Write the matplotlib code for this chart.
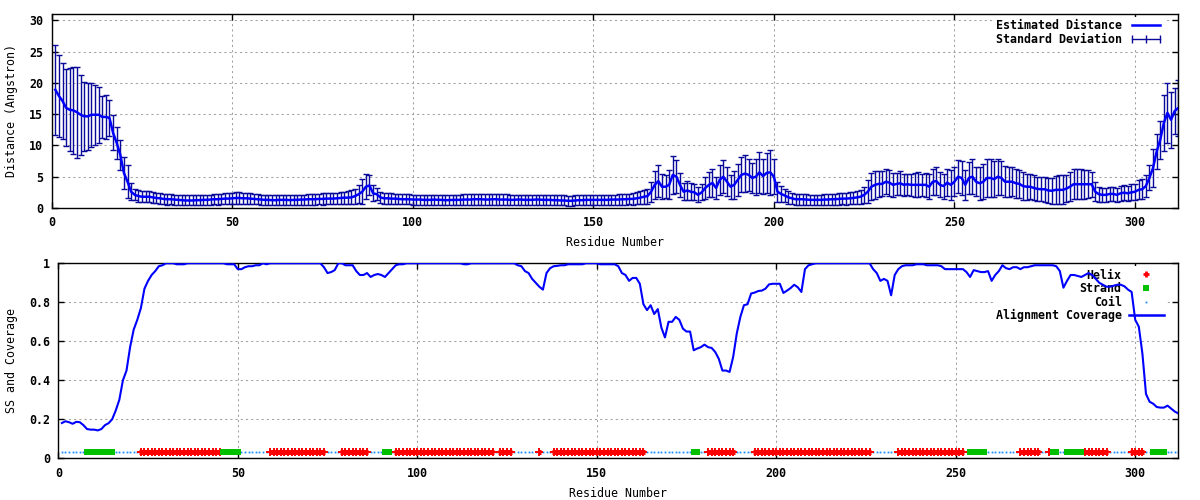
import matplotlib
matplotlib.use('Agg')
import matplotlib.pyplot as plt
from matplotlib.lines import Line2D
from matplotlib.ticker import FuncFormatter

# residue numbers
residues = list(range(1, 313))

# estimated distance (Angstrom) per residue
distance = [
    18.9, 17.9, 17.1, 16.0, 15.7, 15.6, 15.3, 14.9, 14.65, 14.65,
    14.9, 14.9, 14.9, 14.55, 14.55, 14.4, 12.0, 10.4, 8.5, 5.6,
    4.2, 2.6, 2.1, 1.9, 1.8, 1.8, 1.8, 1.7, 1.6, 1.55,
    1.45, 1.4, 1.4, 1.35, 1.3, 1.25, 1.2, 1.2, 1.2, 1.25,
    1.25, 1.3, 1.3, 1.35, 1.4, 1.4, 1.45, 1.5, 1.5, 1.55,
    1.6, 1.6, 1.55, 1.55, 1.5, 1.45, 1.4, 1.35, 1.3, 1.3,
    1.25, 1.25, 1.3, 1.3, 1.3, 1.25, 1.3, 1.3, 1.35, 1.35,
    1.4, 1.4, 1.4, 1.45, 1.45, 1.5, 1.5, 1.5, 1.55, 1.6,
    1.65, 1.65, 1.7, 1.9, 2.2, 2.6, 3.4, 3.6, 2.35, 2.2,
    1.7, 1.55, 1.55, 1.5, 1.5, 1.45, 1.4, 1.4, 1.4, 1.35,
    1.35, 1.35, 1.3, 1.3, 1.3, 1.35, 1.3, 1.3, 1.25, 1.25,
    1.3, 1.3, 1.3, 1.35, 1.35, 1.35, 1.4, 1.4, 1.4, 1.35,
    1.35, 1.4, 1.4, 1.35, 1.35, 1.35, 1.3, 1.3, 1.35, 1.35,
    1.3, 1.3, 1.3, 1.35, 1.35, 1.3, 1.3, 1.3, 1.25, 1.25,
    1.2, 1.2, 1.15, 1.15, 1.2, 1.25, 1.25, 1.3, 1.3, 1.3,
    1.3, 1.3, 1.3, 1.3, 1.35, 1.35, 1.35, 1.4, 1.4, 1.45,
    1.45, 1.55, 1.65, 1.8, 1.9, 2.6, 3.7, 4.3, 3.4, 3.4,
    3.7, 5.3, 5.0, 3.7, 2.6, 2.8, 2.6, 2.5, 2.1, 2.5,
    3.2, 3.7, 4.0, 3.2, 4.5, 5.0, 4.2, 3.4, 3.7, 4.5,
    5.3, 5.5, 5.3, 4.8, 5.0, 5.7, 5.1, 5.6, 5.7, 5.0,
    2.6, 2.25, 2.0, 1.7, 1.55, 1.4, 1.4, 1.4, 1.35, 1.3,
    1.3, 1.3, 1.3, 1.35, 1.35, 1.4, 1.4, 1.45, 1.5, 1.5,
    1.55, 1.6, 1.7, 1.8, 2.1, 2.6, 3.4, 3.7, 3.85, 3.85,
    4.2, 4.05, 3.7, 3.85, 3.95, 3.7, 3.8, 3.7, 3.7, 3.7,
    3.7, 3.7, 3.4, 4.2, 4.3, 3.7, 3.5, 4.05, 3.7, 4.2,
    5.0, 4.8, 3.7, 4.8, 5.0, 4.2, 3.95, 4.2, 4.8, 4.8,
    4.6, 5.0, 4.8, 4.2, 4.2, 4.2, 3.95, 3.85, 3.5, 3.4,
    3.4, 3.2, 3.05, 3.0, 3.0, 2.8, 2.75, 2.9, 2.9, 2.9,
    3.1, 3.4, 3.8, 3.8, 3.8, 3.8, 3.8, 3.8, 2.6, 2.2,
    2.1, 2.1, 2.25, 2.25, 2.1, 2.35, 2.45, 2.35, 2.5, 2.6,
    2.9, 3.0, 3.5, 4.8, 6.4, 9.0, 10.9, 13.6, 15.2, 14.1,
    15.5, 16.0,
]

# standard deviation of the distance
std_dev = [
    7.2, 6.6, 6.1, 6.15, 6.6, 6.9, 7.3, 6.4, 5.5, 5.4,
    5.15, 4.8, 4.5, 3.4, 3.45, 2.85, 2.8, 2.6, 2.4, 2.6,
    2.6, 1.4, 0.9, 0.9, 0.9, 0.9, 0.9, 0.85, 0.85, 0.85,
    0.85, 0.85, 0.8, 0.8, 0.8, 0.8, 0.8, 0.8, 0.8, 0.8,
    0.8, 0.8, 0.8, 0.8, 0.8, 0.85, 0.85, 0.85, 0.9, 0.9,
    0.9, 0.9, 0.9, 0.85, 0.85, 0.85, 0.8, 0.8, 0.8, 0.8,
    0.8, 0.8, 0.8, 0.8, 0.8, 0.8, 0.8, 0.8, 0.8, 0.8,
    0.85, 0.85, 0.85, 0.85, 0.9, 0.9, 0.9, 0.9, 0.9, 0.95,
    0.95, 1.0, 1.1, 1.2, 1.4, 2.0, 2.0, 1.6, 1.3, 1.0,
    0.9, 0.85, 0.85, 0.85, 0.8, 0.8, 0.8, 0.8, 0.8, 0.8,
    0.8, 0.8, 0.8, 0.8, 0.8, 0.8, 0.8, 0.8, 0.8, 0.8,
    0.8, 0.8, 0.8, 0.85, 0.85, 0.85, 0.85, 0.85, 0.85, 0.85,
    0.85, 0.85, 0.85, 0.85, 0.85, 0.85, 0.8, 0.8, 0.8, 0.8,
    0.8, 0.8, 0.8, 0.8, 0.8, 0.8, 0.8, 0.8, 0.8, 0.8,
    0.8, 0.8, 0.8, 0.8, 0.8, 0.8, 0.8, 0.8, 0.8, 0.8,
    0.8, 0.8, 0.8, 0.8, 0.8, 0.8, 0.85, 0.85, 0.85, 0.85,
    0.9, 0.95, 1.0, 1.1, 1.2, 1.6, 2.2, 2.6, 2.0, 1.8,
    2.3, 3.0, 2.6, 1.9, 1.4, 1.5, 1.4, 1.3, 1.2, 1.3,
    1.8, 2.0, 2.2, 1.8, 2.4, 2.6, 2.3, 1.9, 2.2, 2.6,
    2.8, 2.9, 2.6, 2.4, 2.9, 3.3, 2.8, 3.2, 3.6, 2.8,
    1.6, 1.3, 1.1, 1.0, 0.9, 0.9, 0.85, 0.85, 0.85, 0.85,
    0.85, 0.85, 0.85, 0.85, 0.85, 0.85, 0.9, 0.9, 0.9, 0.95,
    0.95, 1.0, 1.0, 1.1, 1.3, 1.8, 2.2, 2.2, 2.1, 2.0,
    2.0, 2.1, 1.9, 1.8, 1.9, 1.8, 1.7, 1.8, 1.9, 2.0,
    1.8, 1.9, 2.0, 2.1, 2.3, 2.0, 2.0, 2.2, 2.4, 2.3,
    2.6, 2.7, 2.4, 2.5, 2.8, 2.3, 2.6, 2.8, 3.0, 3.0,
    2.9, 2.9, 2.7, 2.5, 2.4, 2.3, 2.3, 2.2, 2.2, 2.1,
    2.0, 2.0, 1.9, 1.9, 2.0, 2.0, 2.1, 2.2, 2.3, 2.3,
    2.2, 2.3, 2.4, 2.4, 2.4, 2.3, 2.2, 2.0, 1.5, 1.2,
    1.1, 1.1, 1.1, 1.1, 1.1, 1.2, 1.2, 1.2, 1.3, 1.3,
    1.5, 1.6, 1.7, 2.0, 3.0, 2.8, 3.0, 4.5, 4.8, 4.5,
    3.7, 4.5,
]

# alignment coverage per residue
coverage = [
    0.181, 0.19, 0.185, 0.177, 0.187, 0.185, 0.17, 0.15, 0.147, 0.147,
    0.143, 0.15, 0.17, 0.18, 0.2, 0.245, 0.3, 0.40, 0.45, 0.57,
    0.66, 0.71, 0.77, 0.87, 0.91, 0.94, 0.96, 0.985, 0.99, 1.0,
    1.0, 1.0, 0.995, 0.995, 0.995, 1.0, 1.0, 1.0, 1.0, 1.0,
    1.0, 1.0, 1.0, 1.0, 1.0, 1.0, 0.995, 0.995, 0.995, 0.97,
    0.97, 0.98, 0.985, 0.985, 0.99, 0.99, 1.0, 0.995, 1.0, 1.0,
    1.0, 1.0, 1.0, 1.0, 1.0, 1.0, 1.0, 1.0, 1.0, 1.0,
    1.0, 1.0, 1.0, 0.98, 0.95, 0.955, 0.965, 1.0, 1.0, 0.99,
    0.99, 0.99, 0.96, 0.94, 0.94, 0.95, 0.93, 0.94, 0.945, 0.94,
    0.93, 0.95, 0.97, 0.99, 0.995, 0.995, 1.0, 1.0, 1.0, 1.0,
    1.0, 1.0, 1.0, 1.0, 1.0, 1.0, 1.0, 1.0, 1.0, 1.0,
    1.0, 1.0, 0.995, 0.995, 1.0, 1.0, 1.0, 1.0, 1.0, 1.0,
    1.0, 1.0, 1.0, 1.0, 1.0, 1.0, 1.0, 0.99, 0.985, 0.96,
    0.95, 0.92, 0.9, 0.88, 0.865, 0.95, 0.975, 0.985, 0.987, 0.99,
    0.99, 0.995, 0.995, 0.995, 0.995, 0.995, 1.0, 1.0, 1.0, 1.0,
    0.995, 0.995, 0.995, 0.995, 0.995, 0.985, 0.95, 0.94, 0.91, 0.925,
    0.925, 0.895, 0.79, 0.76, 0.785, 0.74, 0.765, 0.67, 0.62, 0.70,
    0.70, 0.725, 0.71, 0.665, 0.65, 0.65, 0.554, 0.563, 0.57, 0.583,
    0.57, 0.566, 0.545, 0.51, 0.45, 0.45, 0.443, 0.52, 0.64, 0.725,
    0.785, 0.79, 0.845, 0.85, 0.858, 0.86, 0.87, 0.892, 0.895, 0.895,
    0.895, 0.848, 0.86, 0.873, 0.89, 0.877, 0.853, 0.97, 0.99, 0.995,
    1.0, 1.0, 1.0, 1.0, 1.0, 1.0, 1.0, 1.0, 1.0, 1.0,
    1.0, 1.0, 1.0, 1.0, 1.0, 1.0, 0.97, 0.95, 0.91, 0.92,
    0.91, 0.836, 0.94, 0.97, 0.985, 0.99, 0.99, 0.99, 0.995, 0.995,
    0.995, 0.99, 0.99, 0.99, 0.99, 0.985, 0.97, 0.97, 0.97, 0.97,
    0.97, 0.97, 0.955, 0.93, 0.965, 0.96, 0.955, 0.955, 0.96, 0.91,
    0.94, 0.96, 0.99, 0.975, 0.97, 0.98, 0.98, 0.97, 0.98, 0.98,
    0.985, 0.99, 0.99, 0.99, 0.99, 0.99, 0.99, 0.985, 0.96, 0.875,
    0.91, 0.94, 0.94, 0.935, 0.93, 0.94, 0.95, 0.94, 0.92, 0.9,
    0.89, 0.88, 0.88, 0.885, 0.89, 0.89, 0.882, 0.865, 0.853, 0.71,
    0.675, 0.537, 0.33, 0.29, 0.28, 0.263, 0.26, 0.26, 0.27, 0.255,
    0.24, 0.23,
]

# secondary structure runs (first, last residue)
helix_runs = [(23, 45), (59, 74), (79, 86), (94, 121), (123, 126), (134, 134),
              (138, 163), (181, 188), (194, 226), (234, 252), (268, 273),
              (276, 276), (286, 292), (299, 302)]
strand_runs = [(8, 15), (46, 50), (91, 92), (177, 178), (254, 258),
               (277, 278), (281, 285), (305, 308)]
ss_level = 0.03

plt.rcParams['font.family'] = 'DejaVu Sans Mono'
plt.rcParams['font.weight'] = 'bold'
plt.rcParams['font.size'] = 8.4

navy = '#0a0a9a'
grid_kw = dict(color='#a0a0a0', linestyle=(0, (2, 3)), linewidth=0.75)


def style_axes(ax):
    ax.set_axisbelow(True)
    ax.grid(True, **grid_kw)
    ax.tick_params(direction='in', length=4, width=1, top=True, right=True,
                   labelsize=8.4, pad=6)
    for s in ax.spines.values():
        s.set_linewidth(1)


fig = plt.figure(figsize=(12, 5), dpi=100)

# ---- top: distance with error bars
ax1 = fig.add_axes([51.7 / 1200, 1 - 208 / 500, 1126.6 / 1200, 194 / 500])
ax1.errorbar(residues, distance, yerr=std_dev, fmt='none', ecolor=navy,
             elinewidth=1, capsize=2, capthick=1, zorder=2)
ax1.plot(residues, distance, color='#0000ff', lw=1.8, zorder=3)
ax1.set_xlim(0, 312)
ax1.set_ylim(0, 31)
ax1.set_xticks(range(0, 301, 50))
ax1.set_yticks(range(0, 31, 5))
style_axes(ax1)
ax1.set_xlabel('Residue Number', labelpad=5)
ax1.set_ylabel('Distance (Angstron)', labelpad=8)

h1 = [Line2D([], [], color='#0000ff', lw=1.8),
      Line2D([], [], color=navy, lw=1, marker='|', ms=6, mew=1)]
leg1 = ax1.legend(h1, ['Estimated Distance', 'Standard Deviation'],
                  loc='upper right', bbox_to_anchor=(0.989, 0.985),
                  markerfirst=False, numpoints=3, handlelength=3.0,
                  handletextpad=0.6, labelspacing=0.05, borderpad=0.2,
                  borderaxespad=0, fancybox=False, framealpha=1,
                  facecolor='white', edgecolor='none')
leg1.set_zorder(1)

# ---- bottom: secondary structure and coverage
ax2 = fig.add_axes([58.3 / 1200, 1 - 458.3 / 500, 1120 / 1200, 195 / 500])

helix_x = []
for a, b in helix_runs:
    helix_x += list(range(a, b + 1))
strand_x = []
for a, b in strand_runs:
    strand_x += list(range(a, b + 1))
coil_x = [r for r in residues if r not in helix_x and r not in strand_x]

ax2.plot(coil_x, [ss_level] * len(coil_x), ls='none', marker='s', ms=1.3,
         color='#1a8cff', mew=0, zorder=2)
for a, b in helix_runs:
    ax2.plot([a - 0.4, b + 0.4], [ss_level, ss_level], color='red', lw=3.6,
             solid_capstyle='butt', zorder=2)
ax2.plot(helix_x, [ss_level] * len(helix_x), ls='none', marker='+', ms=5.2,
         mew=1.4, color='red', zorder=2)
ax2.plot(strand_x, [ss_level] * len(strand_x), ls='none', marker='s', ms=5,
         mew=0, color='#00c000', zorder=2.1)
ax2.plot(residues, coverage, color='#0000ff', lw=1.5, zorder=3)

ax2.set_xlim(0, 312)
ax2.set_ylim(0, 1)
ax2.set_xticks(range(0, 301, 50))
ax2.set_yticks([0, 0.2, 0.4, 0.6, 0.8, 1])
ax2.yaxis.set_major_formatter(FuncFormatter(lambda v, p: '%g' % v))
style_axes(ax2)
ax2.set_xlabel('Residue Number', labelpad=5)
ax2.set_ylabel('SS and Coverage', labelpad=8)

h2 = [Line2D([], [], ls='none', marker='+', ms=5, mew=2, color='red'),
      Line2D([], [], ls='none', marker='s', ms=5, mew=0, color='#00c000'),
      Line2D([], [], ls='none', marker='s', ms=1.3, mew=0, color='#1a8cff'),
      Line2D([], [], color='#0000ff', lw=1.8)]
leg2 = ax2.legend(h2, ['Helix', 'Strand', 'Coil', 'Alignment Coverage'],
                  loc='upper right', bbox_to_anchor=(0.989, 0.985),
                  markerfirst=False, numpoints=1, handlelength=3.0,
                  handletextpad=0.6, labelspacing=0.05, borderpad=0.2,
                  borderaxespad=0, fancybox=False, framealpha=1,
                  facecolor='white', edgecolor='none')
leg2.set_zorder(1)

fig.savefig('out.png', dpi=100)
